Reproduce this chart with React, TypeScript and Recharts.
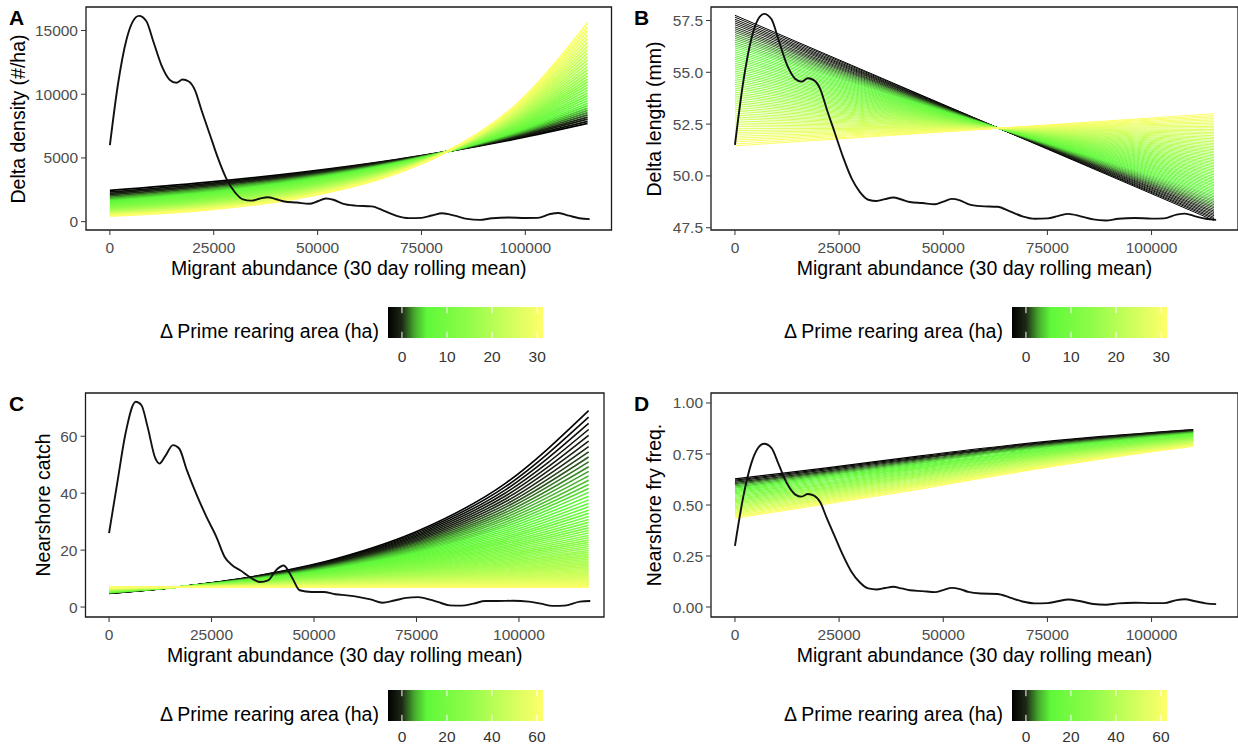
import React from "react";
import { LineChart, Line, XAxis, YAxis, ReferenceArea, ReferenceLine } from "recharts";

const FONT = "'Liberation Sans', Arial, Helvetica, sans-serif";

// shared migrant abundance axis
const xDomain = [-5750, 120750];
const xTicks = [0, 25000, 50000, 75000, 100000];

// Δ prime rearing area of each fan line
const areaA = [-3, -2, -1, 0, 1, 2, 3, 4, 5, 6, 7, 8, 9, 10, 11, 12, 13, 14, 15, 16, 17, 18, 19, 20, 21, 22, 23, 24, 25, 26, 27, 28, 29, 30, 31];
const areaB = [-3, -2.5, -2, -1.5, -1, -0.5, 0, 0.5, 1, 1.5, 2, 2.5, 3, 3.5, 4, 4.5, 5, 5.5, 6, 6.5, 7, 7.5, 8, 8.5, 9, 9.5, 10, 10.5, 11, 11.5, 12, 12.5, 13, 13.5, 14, 14.5, 15, 15.5, 16, 16.5, 17, 17.5, 18, 18.5, 19, 19.5, 20, 20.5, 21, 21.5, 22, 22.5, 23, 23.5, 24, 24.5, 25, 25.5, 26, 26.5, 27, 27.5, 28, 28.5, 29, 29.5, 30, 30.5, 31];
const areaC = [-6, -5, -4, -3, -2, -1, 0, 1, 2, 3, 4, 5, 6, 7, 8, 9, 10, 11, 12, 13, 14, 15, 16, 17, 18, 19, 20, 21, 22, 23, 24, 25, 26, 27, 28, 29, 30, 31, 32, 33, 34, 35, 36, 37, 38, 39, 40, 41, 42, 43, 44, 45, 46, 47, 48, 49, 50, 51, 52, 53, 54, 55, 56, 57, 58, 59, 60, 61, 62];
const areaD = [-6, -4, -2, 0, 2, 4, 6, 8, 10, 12, 14, 16, 18, 20, 22, 24, 26, 28, 30, 32, 34, 36, 38, 40, 42, 44, 46, 48, 50, 52, 54, 56, 58, 60, 62];

// black density curve of migrant abundance (A, B, D share x positions)
const densX = [0, 2000, 4000, 5500, 7000, 8750, 10500, 12500, 14500, 16000, 17500, 19000, 20500, 22000, 24000, 26000, 28000, 30000, 32000, 34000, 36000, 38000, 40000, 42000, 45000, 48000, 50000, 52000, 54000, 56000, 59000, 63000, 66000, 69000, 72000, 75000, 77500, 80000, 83000, 86000, 89000, 92000, 96000, 100000, 103000, 106000, 108000, 110500, 113000, 115500];
const densA = [6000, 10900, 14300, 15700, 16150, 15750, 14100, 12200, 11100, 10900, 11150, 11000, 10300, 8800, 6900, 5000, 3400, 2350, 1750, 1650, 1800, 1920, 1760, 1580, 1500, 1400, 1600, 1820, 1700, 1420, 1260, 1200, 850, 460, 280, 300, 480, 660, 470, 220, 140, 270, 330, 290, 300, 600, 680, 470, 270, 200];
const densB = [51.5, 54.55, 56.67, 57.54, 57.82, 57.57, 56.54, 55.36, 54.68, 54.55, 54.71, 54.61, 54.18, 53.24, 52.06, 50.88, 49.88, 49.22, 48.85, 48.79, 48.88, 48.96, 48.86, 48.74, 48.69, 48.63, 48.76, 48.89, 48.82, 48.64, 48.54, 48.51, 48.29, 48.05, 47.93, 47.95, 48.06, 48.17, 48.05, 47.9, 47.85, 47.93, 47.97, 47.94, 47.95, 48.13, 48.18, 48.05, 47.93, 47.88];
const densD = [0.3, 0.541, 0.709, 0.778, 0.8, 0.78, 0.699, 0.605, 0.551, 0.541, 0.554, 0.546, 0.512, 0.438, 0.344, 0.251, 0.172, 0.12, 0.091, 0.086, 0.093, 0.099, 0.091, 0.082, 0.078, 0.073, 0.083, 0.094, 0.088, 0.074, 0.066, 0.064, 0.046, 0.027, 0.018, 0.019, 0.028, 0.037, 0.028, 0.015, 0.011, 0.018, 0.021, 0.019, 0.019, 0.034, 0.038, 0.028, 0.018, 0.014];
const densCX = [0, 2100, 4000, 6500, 7900, 9400, 11300, 12300, 13700, 15600, 17100, 19000, 21400, 23800, 26200, 28200, 30100, 32000, 34900, 36800, 38800, 40700, 42600, 44600, 46500, 49400, 52300, 55200, 58000, 61000, 63800, 66700, 69600, 72500, 75400, 78300, 80200, 83100, 86000, 88900, 91800, 94700, 98600, 102400, 105300, 108200, 111100, 114900, 117400];
const densC = [26.0, 44.5, 60.9, 72.1, 70.9, 63.3, 52.2, 50.4, 53.0, 56.9, 55.7, 48.0, 39.3, 31.6, 24.6, 17.6, 14.6, 12.9, 10.0, 8.8, 9.4, 12.9, 14.6, 10.5, 5.9, 5.3, 5.3, 4.5, 4.1, 3.5, 2.7, 1.5, 2.3, 3.2, 3.5, 2.6, 1.8, 0.6, 0.5, 1.2, 2.1, 2.1, 2.2, 1.9, 1.2, 0.4, 0.5, 1.9, 2.1];

// A: delta density fan, one row per x position, one value per rearing area
const fanAX = [0, 23000, 46000, 69000, 81000, 98000, 115000];
const fanAY = [
  [2450, 2331, 2218, 2110, 2007, 1909, 1817, 1728, 1644, 1564, 1488, 1416, 1347, 1282, 1219, 1160, 1103, 1050, 999, 950, 904, 860, 818, 778, 741, 705, 670, 638, 607, 577, 549, 522, 497, 473, 450],
  [3081, 2973, 2869, 2768, 2671, 2577, 2486, 2399, 2315, 2234, 2155, 2080, 2007, 1936, 1868, 1803, 1739, 1678, 1619, 1563, 1508, 1455, 1404, 1354, 1307, 1261, 1217, 1174, 1133, 1093, 1055, 1018, 982, 948, 914],
  [3874, 3791, 3710, 3631, 3553, 3477, 3403, 3330, 3259, 3189, 3121, 3054, 2989, 2925, 2863, 2801, 2741, 2683, 2625, 2569, 2514, 2461, 2408, 2357, 2306, 2257, 2209, 2161, 2115, 2070, 2026, 1982, 1940, 1899, 1858],
  [4876, 4840, 4803, 4768, 4732, 4696, 4661, 4627, 4592, 4558, 4524, 4490, 4456, 4423, 4390, 4357, 4325, 4292, 4260, 4228, 4197, 4165, 4134, 4103, 4073, 4042, 4012, 3982, 3952, 3923, 3894, 3864, 3836, 3807, 3778],
  [5492, 5491, 5491, 5490, 5489, 5488, 5488, 5487, 5486, 5485, 5485, 5484, 5483, 5483, 5482, 5481, 5480, 5480, 5479, 5478, 5477, 5477, 5476, 5475, 5474, 5474, 5473, 5472, 5472, 5471, 5470, 5469, 5469, 5468, 5467],
  [6510, 6577, 6646, 6714, 6784, 6854, 6925, 6997, 7070, 7143, 7217, 7292, 7367, 7443, 7521, 7599, 7677, 7757, 7837, 7918, 8000, 8083, 8167, 8252, 8337, 8424, 8511, 8599, 8688, 8778, 8869, 8961, 9054, 9148, 9242],
  [7710, 7872, 8037, 8205, 8377, 8553, 8732, 8915, 9102, 9292, 9487, 9686, 9889, 10096, 10308, 10524, 10744, 10970, 11199, 11434, 11674, 11918, 12168, 12423, 12684, 12949, 13221, 13498, 13781, 14070, 14364, 14666, 14973, 15287, 15607],
];

// B: delta length fan (straight lines)
const fanBX = [0, 115000];
const fanBY = [
  [57.75, 57.66, 57.56, 57.47, 57.38, 57.29, 57.19, 57.1, 57.01, 56.92, 56.82, 56.73, 56.64, 56.55, 56.45, 56.36, 56.27, 56.18, 56.08, 55.99, 55.9, 55.8, 55.71, 55.62, 55.53, 55.43, 55.34, 55.25, 55.16, 55.06, 54.97, 54.88, 54.79, 54.69, 54.6, 54.51, 54.41, 54.32, 54.23, 54.14, 54.04, 53.95, 53.86, 53.77, 53.67, 53.58, 53.49, 53.4, 53.3, 53.21, 53.12, 53.02, 52.93, 52.84, 52.75, 52.65, 52.56, 52.47, 52.38, 52.28, 52.19, 52.1, 52.01, 51.91, 51.82, 51.73, 51.64, 51.54, 51.45],
  [47.85, 47.93, 48.0, 48.08, 48.15, 48.23, 48.3, 48.38, 48.46, 48.53, 48.61, 48.68, 48.76, 48.83, 48.91, 48.99, 49.06, 49.14, 49.21, 49.29, 49.36, 49.44, 49.52, 49.59, 49.67, 49.74, 49.82, 49.89, 49.97, 50.05, 50.12, 50.2, 50.27, 50.35, 50.43, 50.5, 50.58, 50.65, 50.73, 50.8, 50.88, 50.96, 51.03, 51.11, 51.18, 51.26, 51.33, 51.41, 51.49, 51.56, 51.64, 51.71, 51.79, 51.86, 51.94, 52.02, 52.09, 52.17, 52.24, 52.32, 52.39, 52.47, 52.55, 52.62, 52.7, 52.77, 52.85, 52.92, 53.0],
];

// C: nearshore catch fan
const fanCX = [0, 16300, 35600, 56000, 76300, 96700, 117000];
const fanCY = [
  [4.8, 4.83, 4.85, 4.88, 4.91, 4.93, 4.96, 4.99, 5.02, 5.04, 5.07, 5.1, 5.13, 5.16, 5.19, 5.22, 5.25, 5.27, 5.3, 5.33, 5.36, 5.39, 5.42, 5.45, 5.48, 5.51, 5.54, 5.58, 5.61, 5.64, 5.67, 5.7, 5.73, 5.77, 5.8, 5.83, 5.86, 5.89, 5.92, 5.96, 5.99, 6.03, 6.06, 6.1, 6.13, 6.16, 6.19, 6.23, 6.26, 6.3, 6.33, 6.37, 6.4, 6.44, 6.47, 6.51, 6.55, 6.59, 6.62, 6.66, 6.69, 6.73, 6.77, 6.81, 6.84, 6.88, 6.92, 6.96, 7.0],
  [6.96, 6.96, 6.96, 6.96, 6.96, 6.96, 6.96, 6.96, 6.97, 6.97, 6.97, 6.97, 6.97, 6.97, 6.97, 6.97, 6.97, 6.97, 6.97, 6.97, 6.97, 6.97, 6.98, 6.98, 6.98, 6.98, 6.98, 6.98, 6.98, 6.98, 6.98, 6.98, 6.98, 6.98, 6.98, 6.98, 6.99, 6.99, 6.99, 6.99, 6.99, 6.99, 6.99, 6.99, 6.99, 6.99, 6.99, 6.99, 6.99, 6.99, 6.99, 6.99, 7.0, 7.0, 7.0, 7.0, 7.0, 7.0, 7.0, 7.0, 7.0, 7.0, 7.0, 7.0, 7.0, 7.0, 7.0, 7.0, 7.01],
  [10.8, 10.73, 10.66, 10.6, 10.53, 10.46, 10.39, 10.33, 10.26, 10.2, 10.13, 10.07, 10.0, 9.94, 9.88, 9.82, 9.75, 9.69, 9.63, 9.57, 9.51, 9.45, 9.39, 9.33, 9.27, 9.21, 9.15, 9.09, 9.03, 8.98, 8.92, 8.87, 8.81, 8.75, 8.69, 8.64, 8.58, 8.53, 8.48, 8.43, 8.37, 8.32, 8.26, 8.21, 8.16, 8.11, 8.05, 8.0, 7.95, 7.9, 7.85, 7.8, 7.75, 7.7, 7.65, 7.61, 7.56, 7.51, 7.46, 7.42, 7.37, 7.32, 7.27, 7.23, 7.18, 7.14, 7.09, 7.05, 7.0],
  [17.18, 16.95, 16.73, 16.51, 16.3, 16.08, 15.87, 15.66, 15.46, 15.26, 15.06, 14.86, 14.66, 14.47, 14.28, 14.09, 13.91, 13.73, 13.55, 13.37, 13.19, 13.02, 12.85, 12.68, 12.51, 12.35, 12.19, 12.03, 11.87, 11.71, 11.56, 11.41, 11.26, 11.11, 10.97, 10.82, 10.68, 10.54, 10.4, 10.26, 10.13, 10.0, 9.87, 9.74, 9.61, 9.48, 9.36, 9.24, 9.12, 9.0, 8.88, 8.76, 8.65, 8.53, 8.42, 8.31, 8.2, 8.09, 7.99, 7.88, 7.78, 7.68, 7.58, 7.48, 7.38, 7.28, 7.19, 7.09, 7.0],
  [27.3, 26.76, 26.23, 25.71, 25.2, 24.7, 24.21, 23.73, 23.26, 22.8, 22.35, 21.91, 21.47, 21.05, 20.63, 20.22, 19.82, 19.43, 19.04, 18.66, 18.29, 17.93, 17.58, 17.23, 16.89, 16.55, 16.22, 15.9, 15.59, 15.28, 14.98, 14.68, 14.39, 14.1, 13.82, 13.55, 13.28, 13.02, 12.76, 12.51, 12.26, 12.02, 11.78, 11.55, 11.32, 11.09, 10.87, 10.66, 10.45, 10.24, 10.04, 9.84, 9.64, 9.45, 9.26, 9.08, 8.9, 8.72, 8.55, 8.38, 8.22, 8.05, 7.89, 7.73, 7.58, 7.43, 7.29, 7.14, 7.0],
  [43.43, 42.28, 41.16, 40.07, 39.01, 37.98, 36.97, 35.99, 35.04, 34.11, 33.21, 32.33, 31.47, 30.64, 29.83, 29.04, 28.27, 27.52, 26.79, 26.08, 25.39, 24.72, 24.07, 23.43, 22.81, 22.21, 21.62, 21.05, 20.49, 19.95, 19.42, 18.9, 18.4, 17.91, 17.44, 16.98, 16.53, 16.09, 15.67, 15.25, 14.85, 14.46, 14.07, 13.7, 13.34, 12.98, 12.64, 12.31, 11.98, 11.66, 11.35, 11.05, 10.76, 10.47, 10.2, 9.93, 9.67, 9.41, 9.16, 8.92, 8.68, 8.45, 8.23, 8.01, 7.8, 7.59, 7.39, 7.19, 7.0],
  [69.0, 66.72, 64.51, 62.38, 60.31, 58.32, 56.39, 54.52, 52.72, 50.98, 49.29, 47.66, 46.08, 44.56, 43.08, 41.66, 40.28, 38.94, 37.65, 36.4, 35.2, 34.03, 32.91, 31.82, 30.77, 29.75, 28.77, 27.82, 26.9, 26.01, 25.15, 24.32, 23.51, 22.73, 21.98, 21.25, 20.55, 19.87, 19.21, 18.57, 17.96, 17.37, 16.79, 16.24, 15.7, 15.18, 14.68, 14.19, 13.72, 13.27, 12.83, 12.4, 11.99, 11.59, 11.21, 10.84, 10.48, 10.13, 9.8, 9.47, 9.16, 8.86, 8.57, 8.29, 8.01, 7.74, 7.49, 7.24, 7.0],
];

// D: nearshore fry frequency fan
const fanDX = [0, 22000, 44000, 66000, 88000, 110000];
const fanDY = [
  [0.628, 0.622, 0.617, 0.611, 0.605, 0.6, 0.594, 0.588, 0.583, 0.577, 0.572, 0.566, 0.56, 0.555, 0.549, 0.543, 0.538, 0.532, 0.526, 0.521, 0.515, 0.509, 0.504, 0.498, 0.492, 0.487, 0.481, 0.476, 0.47, 0.464, 0.459, 0.453, 0.447, 0.442, 0.436],
  [0.682, 0.677, 0.672, 0.666, 0.661, 0.656, 0.651, 0.646, 0.64, 0.635, 0.63, 0.625, 0.62, 0.614, 0.609, 0.604, 0.599, 0.593, 0.588, 0.583, 0.578, 0.573, 0.567, 0.562, 0.557, 0.552, 0.547, 0.541, 0.536, 0.531, 0.526, 0.521, 0.515, 0.51, 0.505],
  [0.74, 0.735, 0.73, 0.726, 0.721, 0.716, 0.711, 0.706, 0.702, 0.697, 0.692, 0.687, 0.682, 0.678, 0.673, 0.668, 0.663, 0.658, 0.654, 0.649, 0.644, 0.639, 0.635, 0.63, 0.625, 0.62, 0.615, 0.611, 0.606, 0.601, 0.596, 0.591, 0.587, 0.582, 0.577],
  [0.793, 0.789, 0.785, 0.781, 0.777, 0.773, 0.769, 0.765, 0.761, 0.756, 0.752, 0.748, 0.744, 0.74, 0.736, 0.732, 0.728, 0.724, 0.72, 0.716, 0.712, 0.708, 0.704, 0.7, 0.696, 0.692, 0.687, 0.683, 0.679, 0.675, 0.671, 0.667, 0.663, 0.659, 0.655],
  [0.836, 0.833, 0.83, 0.826, 0.823, 0.82, 0.817, 0.813, 0.81, 0.807, 0.804, 0.8, 0.797, 0.794, 0.791, 0.787, 0.784, 0.781, 0.778, 0.775, 0.771, 0.768, 0.765, 0.762, 0.758, 0.755, 0.752, 0.749, 0.745, 0.742, 0.739, 0.736, 0.732, 0.729, 0.726],
  [0.87, 0.868, 0.865, 0.863, 0.86, 0.858, 0.856, 0.853, 0.851, 0.848, 0.846, 0.843, 0.841, 0.839, 0.836, 0.834, 0.831, 0.829, 0.827, 0.824, 0.822, 0.819, 0.817, 0.815, 0.812, 0.81, 0.807, 0.805, 0.802, 0.8, 0.798, 0.795, 0.793, 0.79, 0.788],
];

// colour ramp black -> green -> yellow
const RAMP: [number, number[]][] = [
  [0, [0, 0, 0]],
  [0.09, [30, 40, 22]],
  [0.17, [70, 170, 45]],
  [0.25, [95, 248, 58]],
  [0.5, [140, 252, 72]],
  [0.75, [200, 254, 90]],
  [1, [255, 255, 105]],
];

function rampColour(a: number, lo: number, hi: number) {
  const p = Math.min(1, Math.max(0, (a - lo) / (hi - lo)));
  for (let k = 1; k < RAMP.length; k++) {
    const [p0, c0] = RAMP[k - 1];
    const [p1, c1] = RAMP[k];
    if (p <= p1) {
      const f = (p - p0) / (p1 - p0);
      const c = c0.map((v, j) => Math.round(v + (c1[j] - v) * f));
      return `rgb(${c[0]},${c[1]},${c[2]})`;
    }
  }
  return "rgb(255,255,105)";
}

const tickStyle = { fill: "#4d4d4d", fontSize: 15.5, fontFamily: FONT };

function Panel(props: any) {
  const { left, top, height, yw, mr, yDomain, yTicks, yFormat, fanX, fanY, areas, range, fanWidth, dX, dY, letter, letterX, yTitle, yTitleX } = props;
  const plotTop = 7;
  const plotH = height - 30 - plotTop;
  const plotW = 619 - yw - mr;
  return (
    <div style={{ position: "absolute", left, top, width: 619, height }}>
      <LineChart width={619} height={height} margin={{ top: plotTop, right: mr, bottom: 0, left: 0 }}>
        <XAxis type="number" dataKey="x" domain={xDomain} ticks={xTicks} allowDataOverflow interval={0}
          axisLine={false} tickLine={{ stroke: "#333" }} tickSize={5} tickMargin={6.5} height={30} tick={tickStyle} />
        <YAxis type="number" domain={yDomain} ticks={yTicks} allowDataOverflow interval={0} width={yw}
          axisLine={false} tickLine={{ stroke: "#333" }} tickSize={5} tickMargin={3} tick={tickStyle}
          tickFormatter={yFormat} />
        {areas.map((a: number, i: number) => (
          <Line key={"f" + i} data={fanX.map((x: number, j: number) => ({ x, y: fanY[j][i] }))} dataKey="y"
            type="monotone" stroke={rampColour(a, range[0], range[1])} strokeWidth={fanWidth} dot={false}
            activeDot={false} isAnimationActive={false} />
        ))}
        <Line data={dX.map((x: number, j: number) => ({ x, y: dY[j] }))} dataKey="y" type="monotone"
          stroke="#111" strokeWidth={1.9} dot={false} activeDot={false} isAnimationActive={false} />
        <ReferenceArea x1={xDomain[0]} x2={xDomain[1]} y1={yDomain[0]} y2={yDomain[1]} fill="none"
          fillOpacity={0} stroke="#1a1a1a" strokeWidth={1.3} ifOverflow="visible" />
      </LineChart>
      <div style={{ position: "absolute", left: letterX, top: 7, fontSize: 21, fontWeight: 700, lineHeight: 1, color: "#000" }}>{letter}</div>
      <div style={{ position: "absolute", left: yTitleX, top: plotTop + plotH / 2, transform: "translate(-50%, -50%) rotate(-90deg)",
        fontSize: 19.5, lineHeight: 1, whiteSpace: "nowrap", color: "#000" }}>{yTitle}</div>
      <div style={{ position: "absolute", left: yw + plotW / 2, top: plotTop + plotH + 39, transform: "translate(-50%, -50%)",
        fontSize: 19.5, lineHeight: 1, whiteSpace: "nowrap", color: "#000" }}>Migrant abundance (30 day rolling mean)</div>
    </div>
  );
}

function ColourLegend({ left, top, range, ticks, labelGap }: any) {
  const [lo, hi] = range;
  return (
    <div style={{ position: "absolute", left, top, width: 420, height: 58 }}>
      <div style={{ position: "absolute", left: 0, width: 218, top: 15, textAlign: "right", fontSize: 19.5, lineHeight: 1, whiteSpace: "nowrap", color: "#000" }}>
        Δ Prime rearing area (ha)
      </div>
      <div style={{ position: "absolute", left: 208, top: 0 }}>
        <LineChart width={195} height={58} data={[{ x: lo, y: 0 }, { x: hi, y: 1 }]} margin={{ top: 0, right: 20, bottom: 0, left: 20 }}>
          <XAxis type="number" dataKey="x" domain={[lo, hi]} ticks={ticks} allowDataOverflow interval={0}
            axisLine={false} tickLine={false} tickSize={0} tickMargin={labelGap} height={27}
            tick={{ fill: "#333", fontSize: 15.5, fontFamily: FONT }} />
          <YAxis hide type="number" domain={[0, 1]} allowDataOverflow />
          <Line dataKey="y" stroke="none" dot={false} activeDot={false} isAnimationActive={false} />
          <ReferenceArea x1={lo} x2={hi} y1={0} y2={1} fill="url(#rearingRamp)" fillOpacity={1} stroke="none" ifOverflow="visible" />
          {ticks.map((t: number) => (
            <ReferenceLine key={"b" + t} segment={[{ x: t, y: 0 }, { x: t, y: 0.2 }]} stroke="#fff" strokeWidth={1} />
          ))}
          {ticks.map((t: number) => (
            <ReferenceLine key={"t" + t} segment={[{ x: t, y: 0.8 }, { x: t, y: 1 }]} stroke="#fff" strokeWidth={1} />
          ))}
        </LineChart>
      </div>
    </div>
  );
}

const fmt1 = (v: number) => v.toFixed(1);
const fmt2 = (v: number) => v.toFixed(2);

export default function App() {
  return (
    <div style={{ position: "absolute", left: 0, top: 0, width: 1238, height: 748, background: "#fff", fontFamily: FONT, overflow: "hidden" }}>
      <svg width={0} height={0} style={{ position: "absolute" }}>
        <defs>
          <linearGradient id="rearingRamp" x1="0" x2="1" y1="0" y2="0">
            {RAMP.map(([p, c]) => (
              <stop key={p} offset={p} stopColor={`rgb(${c[0]},${c[1]},${c[2]})`} />
            ))}
          </linearGradient>
        </defs>
      </svg>

      <Panel left={0} top={0} height={260} yw={86} mr={7.5} yDomain={[-654, 16844]} yTicks={[0, 5000, 10000, 15000]}
        fanX={fanAX} fanY={fanAY} areas={areaA} range={[-3.1, 31.3]} fanWidth={1.8} dX={densX} dY={densA}
        letter="A" letterX={9} yTitle="Delta density (#/ha)" yTitleX={19} />
      <Panel left={619} top={0} height={260} yw={92} mr={0} yDomain={[47.39, 58.15]} yTicks={[47.5, 50, 52.5, 55, 57.5]} yFormat={fmt1}
        fanX={fanBX} fanY={fanBY} areas={areaB} range={[-3.1, 31.3]} fanWidth={1} dX={densX} dY={densB}
        letter="B" letterX={15} yTitle="Delta length (mm)" yTitleX={36} />
      <Panel left={0} top={386} height={261} yw={85.5} mr={15} yDomain={[-3.5, 75.2]} yTicks={[0, 20, 40, 60]}
        fanX={fanCX} fanY={fanCY} areas={areaC} range={[-6.2, 62.7]} fanWidth={1.6} dX={densCX} dY={densC}
        letter="C" letterX={9} yTitle="Nearshore catch" yTitleX={44} />
      <Panel left={619} top={386} height={261} yw={92} mr={0} yDomain={[-0.049, 1.049]} yTicks={[0, 0.25, 0.5, 0.75, 1]} yFormat={fmt2}
        fanX={fanDX} fanY={fanDY} areas={areaD} range={[-6.2, 62.7]} fanWidth={1.2} dX={densX} dY={densD}
        letter="D" letterX={15} yTitle="Nearshore fry freq." yTitleX={36} />

      <ColourLegend left={160} top={307} range={[-3.1, 31.3]} ticks={[0, 10, 20, 30]} labelGap={13} />
      <ColourLegend left={784} top={307} range={[-3.1, 31.3]} ticks={[0, 10, 20, 30]} labelGap={13} />
      <ColourLegend left={160} top={690} range={[-6.2, 62.7]} ticks={[0, 20, 40, 60]} labelGap={10} />
      <ColourLegend left={784} top={690} range={[-6.2, 62.7]} ticks={[0, 20, 40, 60]} labelGap={10} />
    </div>
  );
}
